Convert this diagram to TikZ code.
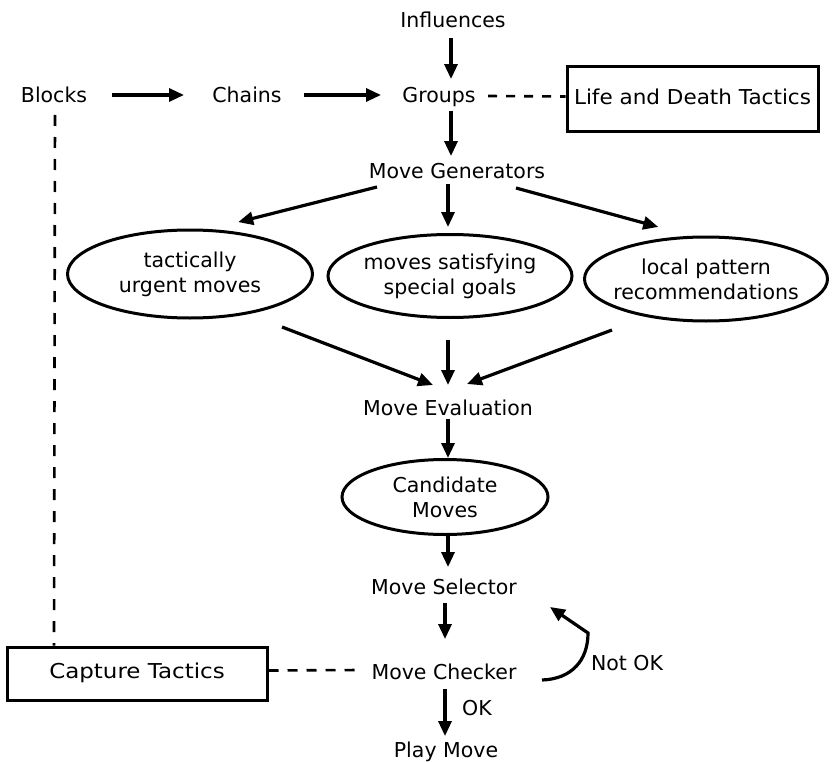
\documentclass[tikz,border=0pt]{standalone}
\usepackage{fontspec}
\usepackage{graphicx}
\setmainfont{DejaVu Sans}
\usetikzlibrary{shapes.geometric,arrows.meta}
\begin{document}
\begin{tikzpicture}[x=1pt,y=-1pt,
 lbl/.style={font=\fontsize{20.5}{25}\selectfont, inner sep=0pt, text height=15pt, text depth=4.5pt},
 arr/.style={line width=3.2pt, -{Triangle[length=15pt,width=13pt]}},
 dsh/.style={line width=2.6pt, dash pattern=on 10pt off 9pt},
 boxed/.style={lbl, draw, line width=3pt, rectangle},
 oval/.style={font=\fontsize{20.5}{25}\selectfont, draw, ellipse, line width=3pt, align=center, inner xsep=-15pt, inner ysep=0pt},
]
\useasboundingbox (0,0) rectangle (832,762);

% text nodes
\node[lbl] (infl)   at (453,22)  {Influences};
\node[lbl] (blocks) at (54,97)   {Blocks};
\node[lbl] (chains) at (247,97)  {Chains};
\node[lbl] (groups) at (439,97)  {Groups};
\node[boxed, minimum width=251pt, minimum height=65pt] (life) at (692.5,99.5) {\scalebox{1.05}[1]{Life and Death Tactics}};
\node[lbl] (mgen)   at (457,173) {Move Generators};
\node[oval, minimum width=245pt, minimum height=88pt] (tact)  at (190,274) {tactically\\urgent moves};
\node[oval, minimum width=244pt, minimum height=83pt] (spec)  at (450,276) {moves satisfying\\special goals};
\node[oval, minimum width=243pt, minimum height=84pt] (local) at (706,279) {local pattern\\recommendations};
\node[lbl] (meval)  at (448,410) {Move Evaluation};
\node[oval, minimum width=206pt, minimum height=75pt] (cand) at (445,497) {Candidate\\Moves};
\node[lbl] (msel)   at (444,589) {Move Selector};
\node[lbl] (mchk)   at (444,674) {Move Checker};
\node[boxed, minimum width=260pt, minimum height=53pt] (capt) at (137,673.5) {\scalebox{1.12}[1]{Capture Tactics}};
\node[lbl] (play)   at (446,752) {Play Move};
\node[lbl] (ok)     at (477,710) {OK};
\node[lbl] (notok)  at (627,665) {Not OK};

% top row
\draw[arr] ([xshift=-2pt,yshift=-6pt]infl.south) -- ([xshift=12pt,yshift=8pt]groups.north);
\draw[arr] ([xshift=58pt,yshift=2pt]blocks.center) -- ([xshift=-63pt,yshift=2pt]chains.center);
\draw[arr] ([xshift=57pt,yshift=2pt]chains.center) -- ([xshift=-58pt,yshift=2pt]groups.center);
\draw[dsh, dash pattern=on 9pt off 9pt] ([xshift=49pt,yshift=1pt]groups.center) -- ([yshift=3pt]life.west);
\draw[arr] ([xshift=12pt,yshift=-4pt]groups.south) -- ([xshift=-6pt,yshift=7pt]mgen.north);

% generators to ovals
\draw[arr] ([xshift=-80pt,yshift=-14pt]mgen.center) -- ([yshift=10pt]tact.41);
\draw[arr] ([xshift=-9pt,yshift=-11pt]mgen.center) -- ([xshift=-2pt,yshift=6pt]spec.north);
\draw[arr] ([xshift=59pt,yshift=-15pt]mgen.center) -- ([yshift=12pt]local.140);

% ovals to evaluation
\draw[arr] ([xshift=92pt,yshift=-53pt]tact.center) -- ([xshift=-15pt,yshift=25pt]meval.center);
\draw[arr] ([xshift=-2pt,yshift=-20.5pt]spec.south) -- ([yshift=25pt]meval.center);
\draw[arr] ([xshift=-94pt,yshift=-51pt]local.center) -- ([xshift=19pt,yshift=26pt]meval.center);

% main column
\draw[arr] ([yshift=-9pt]meval.center) -- ([xshift=3pt]cand.north);
\draw[arr] ([xshift=3pt]cand.south) -- ([xshift=4pt,yshift=12pt]msel.north);
\draw[arr] ([xshift=1pt,yshift=-4pt]msel.south) -- ([xshift=1pt,yshift=25pt]mchk.north);
\draw[arr] ([xshift=1pt,yshift=-5pt]mchk.south) -- ([xshift=-1pt,yshift=6pt]play.north);

% Not OK loop
\draw[arr] ([xshift=98pt,yshift=-6pt]mchk.center) .. controls (572,679) and (588,660) .. (588,633) -- ([xshift=106pt,yshift=-18pt]msel.center);

% dashed links
\draw[dsh] ([yshift=3pt]capt.east) -- ([xshift=-84pt,yshift=4pt]mchk.center);
\draw[dsh, dash pattern=on 11pt off 11pt] ([xshift=1pt,yshift=-18pt]blocks.center) -- (blocks.center |- capt.north);
\end{tikzpicture}
\end{document}
